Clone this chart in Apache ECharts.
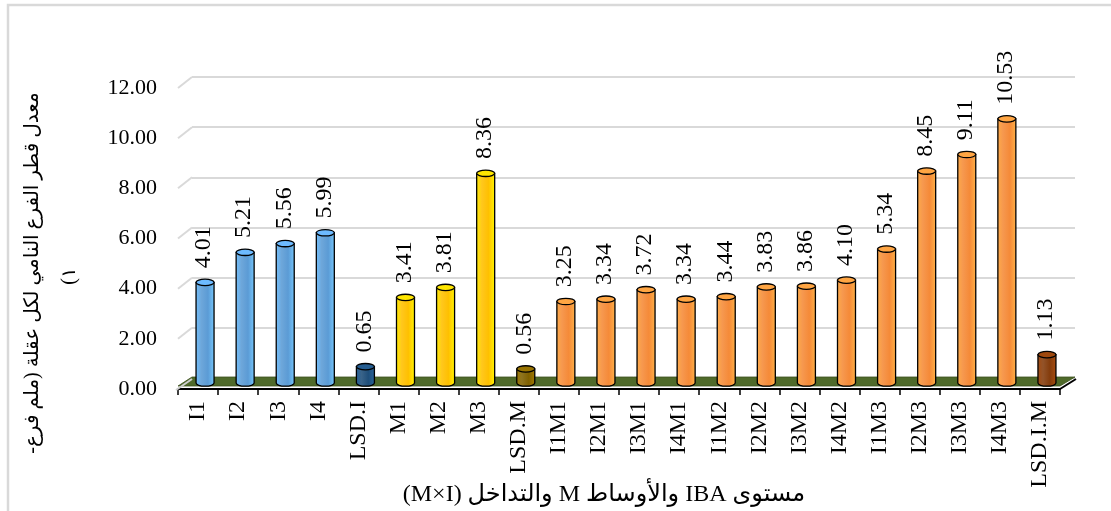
<!DOCTYPE html>
<html><head><meta charset="utf-8">
<script src="https://cdn.jsdelivr.net/npm/echarts@6/dist/echarts.min.js"></script>
<style>html,body{margin:0;padding:0;background:#fff}#c{width:1111px;height:511px}</style>
</head><body><div id="c"></div>
<script>
// ---- data ----
const ibaCats = ['I1', 'I2', 'I3', 'I4'];
const ibaVals = [4.01, 5.21, 5.56, 5.99];
const lsdICat = ['LSD.I'];
const lsdIVal = [0.65];
const mediaCats = ['M1', 'M2', 'M3'];
const mediaVals = [3.41, 3.81, 8.36];
const lsdMCat = ['LSD.M'];
const lsdMVal = [0.56];
const interCats = ['I1M1', 'I2M1', 'I3M1', 'I4M1', 'I1M2', 'I2M2', 'I3M2', 'I4M2', 'I1M3', 'I2M3', 'I3M3', 'I4M3'];
const interVals = [3.25, 3.34, 3.72, 3.34, 3.44, 3.83, 3.86, 4.10, 5.34, 8.45, 9.11, 10.53];
const lsdIMCat = ['LSD.I.M'];
const lsdIMVal = [1.13];
const yTicks = [0, 2, 4, 6, 8, 10, 12];
const yTitleLine1 = 'معدل قطر الفرع النامي لكل عقلة (ملم فرع-';
const yTitleLine2 = '١)';
const xTitle = 'مستوى IBA والأوساط M والتداخل (M×I)';

// ---- styles ----
const groupColors = ['#5B9BD5', '#1F4E79', '#FFC000', '#7F6000', '#F58A38', '#843C0C'];
const groups = [[ibaCats, ibaVals], [lsdICat, lsdIVal], [mediaCats, mediaVals], [lsdMCat, lsdMVal], [interCats, interVals], [lsdIMCat, lsdIMVal]];

const categories = [], values = [], colorOf = [];
groups.forEach((g, gi) => { g[0].forEach((c, k) => { categories.push(c); values.push(g[1][k]); colorOf.push(groupColors[gi]); }); });

const SERIF = "'Liberation Serif', 'DejaVu Sans', serif";
const RLE = '\u202B', PDF = '\u202C';
const DEPTH_X = 14, DEPTH_Y = -11;

const chart = echarts.init(document.getElementById('c'), null, { renderer: 'canvas' });

function cylinder(params, api) {
  const i = api.value(0), v = api.value(1);
  const top = api.coord([i, v]);
  const base = api.coord([i, 0]);
  const cx = top[0] + 7, ty = top[1] - 6, by = base[1] - 6;
  const rx = 9, ry = 3.2;
  const c = colorOf[i];
  const lift = echarts.color.lift;
  const grad = { type: 'linear', x: 0, y: 0, x2: 1, y2: 0, colorStops: [
    { offset: 0, color: lift(c, -0.25) }, { offset: 0.3, color: lift(c, 0.12) },
    { offset: 0.65, color: c }, { offset: 1, color: lift(c, -0.3) }] };
  const x1 = cx - rx, x2 = cx + rx;
  const body = 'M' + x1 + ' ' + ty + ' L' + x1 + ' ' + by + ' A' + rx + ' ' + ry + ' 0 0 0 ' + x2 + ' ' + by + ' L' + x2 + ' ' + ty + ' Z';
  return { type: 'group', children: [
    { type: 'path', shape: { pathData: body }, style: { fill: grad, stroke: '#000', lineWidth: 1.3 } },
    { type: 'ellipse', shape: { cx: cx, cy: ty, rx: rx, ry: ry }, style: { fill: lift(c, -0.2), stroke: '#000', lineWidth: 1.3 } },
    { type: 'text', x: cx - 1, y: ty - ry - 11, rotation: Math.PI / 2,
      style: { text: v.toFixed(2), font: '24px ' + SERIF, fill: '#000', align: 'left', verticalAlign: 'middle' } }
  ] };
}

function decor(params, api) {
  const v = api.value(1);
  const p = api.coord([0, v]);
  const bw = api.size([1, 0])[0];
  const L = p[0] - bw / 2;
  const R = L + bw * categories.length;
  const kids = [];
  if (v === 0) {
    const fy = p[1] - 3;
    kids.push({ type: 'polygon', shape: { points: [[L, fy], [R, fy], [R + DEPTH_X + 1, fy + DEPTH_Y + 2], [L + DEPTH_X, fy + DEPTH_Y + 2]] },
      style: { fill: '#4F6A2A', stroke: '#3d5220', lineWidth: 0.8 } });
    kids.push({ type: 'line', shape: { x1: R, y1: p[1], x2: R + DEPTH_X + 2, y2: p[1] + DEPTH_Y + 1 }, style: { stroke: '#000', lineWidth: 2 } });
    kids.push({ type: 'line', shape: { x1: L - 2, y1: p[1] + 1, x2: L + DEPTH_X, y2: p[1] + DEPTH_Y + 1 }, style: { stroke: '#cfcfcf', lineWidth: 2 } });
  } else {
    kids.push({ type: 'line', shape: { x1: L, y1: p[1], x2: L + DEPTH_X, y2: p[1] + DEPTH_Y }, style: { stroke: '#d9d9d9', lineWidth: 2 } });
  }
  return { type: 'group', children: kids };
}

chart.setOption({
  animation: false,
  backgroundColor: '#fff',
  grid: [
    { left: 178, right: 51, top: 88, bottom: 122 },
    { left: 178 + DEPTH_X, right: 51 - DEPTH_X - 1, top: 88 + DEPTH_Y, bottom: 122 - DEPTH_Y }
  ],
  xAxis: [
    { gridIndex: 0, type: 'category', data: categories,
      axisLine: { lineStyle: { color: '#000', width: 2 } },
      axisTick: { show: true, length: 6, lineStyle: { color: '#000', width: 1.5 } },
      axisLabel: { rotate: 90, margin: 12, color: '#000', fontFamily: SERIF, fontSize: 24, interval: 0 } },
    { gridIndex: 1, type: 'category', data: categories, show: false }
  ],
  yAxis: [
    { gridIndex: 0, type: 'value', min: 0, max: 12, interval: 2,
      axisLine: { show: false }, axisTick: { show: false }, splitLine: { show: false },
      axisLabel: { margin: 21, color: '#000', fontFamily: SERIF, fontSize: 22, formatter: v => v.toFixed(2) } },
    { gridIndex: 1, type: 'value', min: 0, max: 12, interval: 2,
      axisLine: { show: false }, axisTick: { show: false }, axisLabel: { show: false },
      splitLine: { show: true, lineStyle: { color: '#d9d9d9', width: 2 } } }
  ],
  series: [
    { type: 'custom', xAxisIndex: 0, yAxisIndex: 0, z: 1, renderItem: decor,
      data: yTicks.map(t => [0, t]), encode: { x: 0, y: 1 }, silent: true },
    { type: 'custom', xAxisIndex: 0, yAxisIndex: 0, z: 3, renderItem: cylinder,
      data: values.map((v, i) => [i, v]), encode: { x: 0, y: 1 }, clip: false }
  ],
  graphic: [
    { type: 'rect', shape: { x: 8, y: 5, width: 1200, height: 600 }, style: { fill: 'none', stroke: '#d9d9d9', lineWidth: 2.5 }, z: -1 },
    { type: 'text', x: 33, y: 273, rotation: Math.PI / 2,
      style: { text: RLE + yTitleLine1 + PDF, font: '20px ' + SERIF, fill: '#000', align: 'center', verticalAlign: 'middle' } },
    { type: 'text', x: 70, y: 276, rotation: Math.PI / 2,
      style: { text: RLE + yTitleLine2 + PDF, font: '20px ' + SERIF, fill: '#000', align: 'center', verticalAlign: 'middle' } },
    { type: 'text', x: 604, y: 495,
      style: { text: RLE + xTitle + PDF, font: '24px ' + SERIF, fill: '#000', align: 'center', verticalAlign: 'middle' } }
  ]
});
</script>
</body></html>
